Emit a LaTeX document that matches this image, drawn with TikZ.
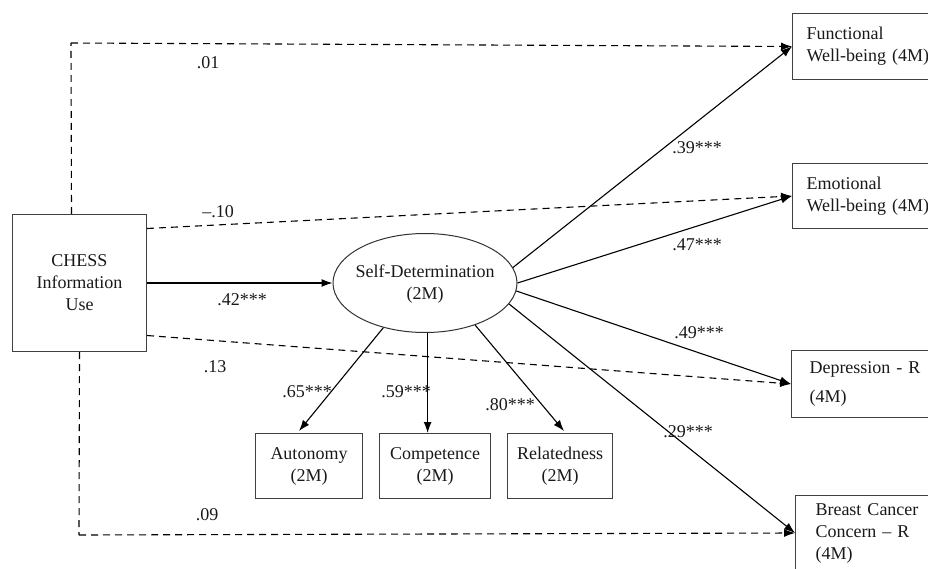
\documentclass[tikz,border=0pt]{standalone}
\usepackage{fontspec}
\setmainfont{Liberation Serif}
\newfontfamily\tnr{Liberation Serif}
\usetikzlibrary{arrows.meta,shapes.geometric}
\begin{document}
\begin{tikzpicture}[x=1pt,y=-1pt,
  every node/.style={font=\tnr\fontsize{18}{22}\selectfont, text=black!90},
  box/.style={draw=black!75, line width=1pt, rectangle, inner sep=0pt, anchor=north west},
  rbox/.style={box, align=left},
  cbox/.style={box, align=center, minimum height=65pt},
  conn/.style={draw=black, line width=1.1pt, -{Latex[length=11pt,width=8pt]}},
  dashline/.style={conn, dash pattern=on 7pt off 5pt},
  lab/.style={inner sep=0pt}]
\useasboundingbox (0,0) rectangle (928,569);
\clip (0,0) rectangle (928,569);

% boxes
\node[box, align=center, minimum width=134pt, minimum height=137pt] (chess) at (12,214) {CHESS\\Information\\Use};
\node[draw=black!80, line width=1pt, ellipse, inner sep=0pt, minimum width=184pt, minimum height=99pt] (ell) at (425,283) {};
\node[align=center] (ellt) at (425,284) {Self-Determination\\(2M)};

\node[rbox, inner xsep=14pt, text width=150pt, minimum height=66pt] (fun) at (792,13) {Functional\\Well-being (4M)};
\node[rbox, inner xsep=14pt, text width=150pt, minimum height=65pt] (emo) at (792,163) {Emotional\\Well-being (4M)};
\node[rbox, inner xsep=18pt, text width=150pt, minimum height=67pt] (dep) at (791,350) {Depression - R\\[7pt](4M)};
\node[rbox, inner xsep=20pt, text width=150pt, minimum height=75pt] (bc) at (795,495) {Breast Cancer\\Concern – R\\(4M)};

\node[cbox, minimum width=107pt] (aut) at (255,433) {Autonomy\\(2M)};
\node[cbox, minimum width=111pt] (com) at (379,433) {Competence\\(2M)};
\node[cbox, minimum width=105pt] (rel) at (507,433) {Relatedness\\(2M)};

% helper corners
\coordinate (tl) at (71,43);
\coordinate (bl) at (79,535);

% dashed paths
\draw[dashline, -] ([xshift=-8pt]chess.north) -- (tl);
\draw[dashline] (tl) -- (fun.west);
\draw[dashline] ([yshift=54.5pt]chess.east) -- (emo.west);
\draw[dashline] ([yshift=-52.5pt]chess.east) -- (dep.west);
\draw[dashline, -] (chess.south) -- (bl);
\draw[dashline] (bl) -- (bc.west);

% solid paths
\draw[conn] (chess.east) -- (ell.west);
\draw[conn] (ell.10) -- (fun.west);
\draw[conn] (ell.0) -- (emo.west);
\draw[conn] (ell.-5) -- (dep.west);
\draw[conn] (ell.-14) -- (bc.west);
\draw[conn] (ell.-133) -- ([xshift=-10pt,yshift=2pt]aut.north);
\draw[conn] (ell.-87) -- (ell.-87 |- com.north);
\draw[conn] (ell.-40) -- ([xshift=4pt,yshift=2pt]rel.north);

% labels
\node[lab] (l01) at (208,63) {.01};
\node[lab] (l10) at (218,212) {–.10};
\node[lab] (l42) at (242,300) {.42***};
\node[lab] (l13) at (215,367) {.13};
\node[lab] (l09) at (207,515) {.09};
\node[lab] (l39) at (697,148) {.39***};
\node[lab] (l47) at (697,245) {.47***};
\node[lab] (l49) at (699,333) {.49***};
\node[lab] (l29) at (688,432) {.29***};
\node[lab] (l65) at (307,392) {.65***};
\node[lab] (l59) at (406,392) {.59***};
\node[lab] (l80) at (510,405) {.80***};
\end{tikzpicture}
\end{document}
